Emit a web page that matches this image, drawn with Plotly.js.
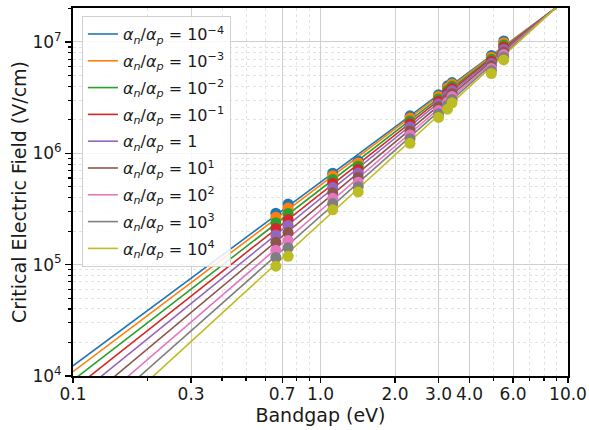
<!DOCTYPE html>
<html>
<head>
<meta charset="utf-8">
<script src="https://cdn.plot.ly/plotly-3.0.1.min.js"></script>
<style>html,body{margin:0;padding:0;background:#fff;}#chart{width:589px;height:430px;}</style>
</head>
<body>
<div id="chart"></div>
<script>
// Ratio labels (exponents of alpha_n/alpha_p)
const ratioExponents = [-4, -3, -2, -1, 0, 1, 2, 3, 4];
const colors = ['#1f77b4','#ff7f0e','#2ca02c','#d62728','#9467bd','#8c564b','#e377c2','#7f7f7f','#bcbd22'];

// Fitted lines: x endpoints and field at each endpoint per series
const lineBandgap = [0.1, 10];
const lineAt0p1 = [12360, 10940, 9162, 7568, 6180, 4831, 3724, 2931, 2183];
const lineAt10  = [2.438e7, 2.449e7, 2.460e7, 2.472e7, 2.483e7, 2.500e7, 2.518e7, 2.529e7, 2.553e7];

// Material bandgaps (eV)
const bandgaps = [0.66, 0.74, 1.12, 1.42, 2.3, 3.0, 3.26, 3.4, 4.9, 5.5];

// Critical field points (V/cm), one array per ratio
const field_m4 = [2.90e5, 3.50e5, 6.62e5, 8.53e5, 2.17e6, 3.36e6, 4.04e6, 4.32e6, 7.54e6, 1.02e7];
const field_m3 = [2.67e5, 3.23e5, 6.30e5, 8.19e5, 2.08e6, 3.24e6, 3.88e6, 4.19e6, 7.29e6, 9.84e6];
const field_m2 = [2.38e5, 2.88e5, 5.83e5, 7.67e5, 1.95e6, 3.08e6, 3.68e6, 4.00e6, 6.98e6, 9.39e6];
const field_m1 = [2.11e5, 2.55e5, 5.37e5, 7.15e5, 1.84e6, 2.93e6, 3.49e6, 3.82e6, 6.70e6, 8.97e6];
const field_0  = [1.85e5, 2.25e5, 4.92e5, 6.64e5, 1.72e6, 2.77e6, 3.29e6, 3.64e6, 6.41e6, 8.55e6];
const field_p1 = [1.59e5, 1.94e5, 4.42e5, 6.07e5, 1.59e6, 2.60e6, 3.08e6, 3.43e6, 6.10e6, 8.13e6];
const field_p2 = [1.35e5, 1.65e5, 3.94e5, 5.50e5, 1.46e6, 2.42e6, 2.88e6, 3.23e6, 5.79e6, 7.70e6];
const field_p3 = [1.16e5, 1.42e5, 3.54e5, 5.02e5, 1.35e6, 2.27e6, 2.69e6, 3.04e6, 5.51e6, 7.30e6];
const field_p4 = [9.68e4, 1.19e5, 3.11e5, 4.50e5, 1.23e6, 2.10e6, 2.49e6, 2.84e6, 5.21e6, 6.90e6];
const fields = [field_m4, field_m3, field_m2, field_m1, field_0, field_p1, field_p2, field_p3, field_p4];

// Axis ticks
const xTickVals = [0.1, 0.3, 0.7, 1, 2, 3, 4, 6, 10];
const xTickText = ['0.1', '0.3', '0.7', '1.0', '2.0', '3.0', '4.0', '6.0', '10.0'];
const xMinorVals = [0.2, 0.4, 0.5, 0.6, 0.8, 0.9, 5, 7, 8, 9];
const yTickVals = [1e4, 1e5, 1e6, 1e7];
const yTickText = ['10<sup>4</sup>', '10<sup>5</sup>', '10<sup>6</sup>', '10<sup>7</sup>'];
const yMinorVals = [];
[1e4, 1e5, 1e6, 1e7].forEach(d => { for (let k = 2; k <= 9; k++) yMinorVals.push(k * d); });

function ratioLabel(e) {
  const lhs = '<i>α</i><sub><i>n</i></sub>/<i>α</i><sub><i>p</i></sub> = ';
  if (e === 0) return lhs + '1';
  const s = e < 0 ? '−' + Math.abs(e) : String(e);
  return lhs + '10<sup>' + s + '</sup>';
}

const traces = [];
ratioExponents.forEach((e, i) => {
  traces.push({
    x: lineBandgap, y: [lineAt0p1[i], lineAt10[i]],
    mode: 'lines', type: 'scatter',
    line: {color: colors[i], width: 1.6},
    name: ratioLabel(e), legendgroup: 'g' + i, showlegend: true,
    hoverinfo: 'skip'
  });
});
ratioExponents.forEach((e, i) => {
  traces.push({
    x: bandgaps, y: fields[i],
    mode: 'markers', type: 'scatter',
    marker: {color: colors[i], size: 11, line: {width: 0}},
    legendgroup: 'g' + i, showlegend: false
  });
});

const gridMajor = '#cfcfcf';
const gridMinor = '#e3e3e3';
const textColor = '#1a1a1a';

const layout = {
  width: 589, height: 430,
  margin: {l: 73, r: 21, t: 8, b: 54},
  paper_bgcolor: '#fff', plot_bgcolor: '#fff',
  font: {family: 'DejaVu Sans', size: 16, color: textColor},
  showlegend: true,
  legend: {
    x: 0.018, y: 0.978, xanchor: 'left', yanchor: 'top',
    bgcolor: 'rgba(255,255,255,0.85)', bordercolor: '#d0d0d0', borderwidth: 1,
    font: {family: 'DejaVu Sans', size: 16, color: textColor},
    tracegroupgap: 3, itemwidth: 30
  },
  xaxis: {
    type: 'log', range: [-1, 1],
    tickmode: 'array', tickvals: xTickVals, ticktext: xTickText,
    ticks: 'outside', ticklen: 5, tickwidth: 1.2, tickcolor: '#000',
    ticklabelstandoff: -3,
    showgrid: true, gridcolor: gridMajor, gridwidth: 1,
    showline: true, linecolor: '#000', linewidth: 2, mirror: true,
    zeroline: false,
    tickfont: {family: 'DejaVu Sans', size: 17, color: textColor},
    title: {text: 'Bandgap (eV)', font: {family: 'DejaVu Sans', size: 19, color: textColor}, standoff: 0},
    minor: {tickmode: 'array', tickvals: xMinorVals, ticks: 'outside', ticklen: 3, tickcolor: '#000',
            showgrid: true, gridcolor: gridMinor, griddash: 'dot', gridwidth: 1}
  },
  yaxis: {
    type: 'log', range: [4, 7.305],
    tickmode: 'array', tickvals: yTickVals, ticktext: yTickText,
    ticks: 'outside', ticklen: 6, tickwidth: 1.2, tickcolor: '#000',
    showgrid: true, gridcolor: gridMajor, gridwidth: 1,
    showline: true, linecolor: '#000', linewidth: 2, mirror: true,
    zeroline: false,
    tickfont: {family: 'DejaVu Sans', size: 17, color: textColor},
    title: {text: 'Critical Electric Field (V/cm)', font: {family: 'DejaVu Sans', size: 19, color: textColor}, standoff: 1},
    minor: {tickmode: 'array', tickvals: yMinorVals, ticks: 'outside', ticklen: 3, tickcolor: '#000',
            showgrid: true, gridcolor: gridMinor, griddash: 'dot', gridwidth: 1}
  }
};

Plotly.newPlot('chart', traces, layout, {displayModeBar: false, staticPlot: true});
</script>
</body>
</html>
